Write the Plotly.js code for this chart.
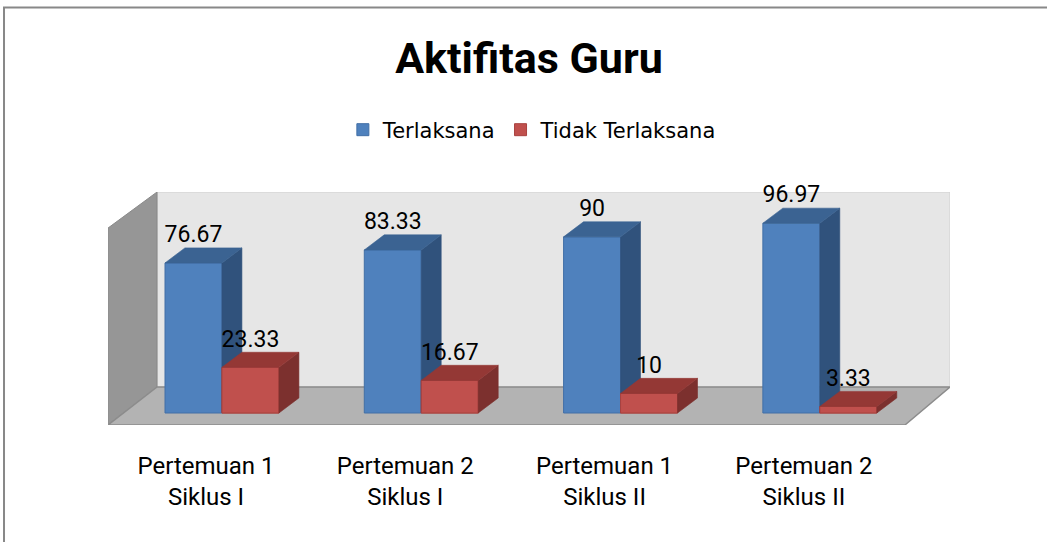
<!DOCTYPE html>
<html>
<head>
<meta charset="utf-8">
<script src="https://cdn.plot.ly/plotly-3.0.1.min.js"></script>
<style>
  html, body { margin: 0; padding: 0; background: #ffffff; }
  #chart { width: 1047px; height: 542px; }
</style>
</head>
<body>
<div id="chart"></div>
<script>
// ---- Data ----
const categories = ['Pertemuan 1<br>Siklus I', 'Pertemuan 2<br>Siklus I', 'Pertemuan 1<br>Siklus II', 'Pertemuan 2<br>Siklus II'];
const terlaksana = [76.67, 83.33, 90, 96.97];
const tidakTerlaksana = [23.33, 16.67, 10, 3.33];
const seriesNames = ['Terlaksana', 'Tidak Terlaksana'];
const chartTitle = 'Aktifitas Guru';

// ---- Style ----
const blue = { front: '#4F81BD', side: '#30527c', top: '#3b6392', edge: '#426fa6' };
const red = { front: '#C0504D', side: '#7c302e', top: '#943835', edge: '#a9423f' };
const bargap = 0.428;
const w = (1 - bargap) / 2;     // width of one bar in axis units
const ddx = 0.1;                // depth offset (x units)
const ddy = 7.7;                // depth offset (y units)
const xs = categories.map((_, i) => i);

function faces(values, leftOf) {
  const side = { x: [], y: [] }, top = { x: [], y: [] }, front = { x: [], y: [] };
  values.forEach((v, i) => {
    const l = leftOf(i), r = l + w;
    side.x.push(r, r + ddx, r + ddx, r, r, null);
    side.y.push(0, ddy, v + ddy, v, 0, null);
    top.x.push(l, l + ddx, r + ddx, r, l, null);
    top.y.push(v, v + ddy, v + ddy, v, v, null);
    front.x.push(l, r, r, l, l, null);
    front.y.push(0, 0, v, v, 0, null);
  });
  return { side, top, front };
}
const fb = faces(terlaksana, i => i - w);
const fr = faces(tidakTerlaksana, i => i);

function poly(p, color) {
  return { type: 'scatter', mode: 'lines', x: p.x, y: p.y, fill: 'toself', fillcolor: color,
           line: { color: color, width: 0.6 }, showlegend: false, hoverinfo: 'skip', connectgaps: false };
}
function labels(values, off) {
  return { type: 'scatter', mode: 'text', x: xs.map(i => i + off), y: values.map(v => v + ddy),
           text: values.map(v => String(v)), textposition: 'top center', cliponaxis: false,
           textfont: { family: 'Roboto, sans-serif', size: 23, color: '#000' },
           showlegend: false, hoverinfo: 'skip' };
}

const traces = [
  { type: 'bar', name: seriesNames[0], x: xs, y: terlaksana,
    marker: { color: blue.front, line: { color: blue.edge, width: 1 } }, hoverinfo: 'y' },
  { type: 'bar', name: seriesNames[1], x: xs, y: tidakTerlaksana,
    marker: { color: red.front, line: { color: red.edge, width: 1 } }, hoverinfo: 'y' },
  poly(fb.side, blue.side),
  poly(fb.top, blue.top),
  Object.assign(poly(fr.front, red.front), { line: { color: red.edge, width: 1 } }),
  poly(fr.side, red.side),
  poly(fr.top, red.top),
  labels(terlaksana, -w / 2),
  labels(tidakTerlaksana, w / 2)
];

// ---- Geometry of the 3D box (axis units) ----
const X0 = -0.572, X1 = 3.653, Y0 = -6.13, Y1 = 112.93;
const bx = -0.326, byFloor = 13.29, fxr = 3.427, leftTop = 94.5;

const layout = {
  width: 1047, height: 542,
  margin: { l: 108, r: 97, t: 192, b: 117 },
  paper_bgcolor: '#ffffff', plot_bgcolor: 'rgba(0,0,0,0)',
  barmode: 'group', bargap: bargap, bargroupgap: 0,
  title: { text: chartTitle, font: { family: 'Roboto, sans-serif', size: 43, color: '#000', weight: 'bold' },
           x: 0.5, xref: 'paper', xanchor: 'center', y: 0.893, yref: 'container', yanchor: 'middle' },
  legend: { orientation: 'h', x: 0.504, xanchor: 'center', y: 1.266, yanchor: 'middle',
            font: { family: 'DejaVu Sans, sans-serif', size: 21, color: '#000' },
            traceorder: 'normal', bgcolor: 'rgba(0,0,0,0)' },
  xaxis: { type: 'linear', range: [X0, X1], tickvals: xs, ticktext: categories,
           showgrid: false, zeroline: false, showline: false, ticks: '',
           tickfont: { family: 'Roboto, sans-serif', size: 24, color: '#000' },
           ticklabelshift: -16, ticklabelstandoff: 24, fixedrange: true },
  yaxis: { range: [Y0, Y1], visible: false, showgrid: false, zeroline: false, fixedrange: true },
  shapes: [
    // back wall
    { type: 'path', layer: 'below', xref: 'x', yref: 'y',
      path: `M${bx},${byFloor} L${bx},${Y1} L${X1},${Y1} L${X1},${byFloor} Z`,
      fillcolor: '#e6e6e6', line: { color: '#d0d0d0', width: 1 } },
    // left wall
    { type: 'path', layer: 'below', xref: 'x', yref: 'y',
      path: `M${X0},${Y0} L${X0},${leftTop} L${bx},${Y1} L${bx},${byFloor} Z`,
      fillcolor: '#969696', line: { color: '#8a8a8a', width: 1 } },
    // floor
    { type: 'path', layer: 'below', xref: 'x', yref: 'y',
      path: `M${X0},${Y0} L${fxr},${Y0} L${X1},${byFloor} L${bx},${byFloor} Z`,
      fillcolor: '#b3b3b3', line: { color: '#8c8c8c', width: 1.5 } },
    // chart border (top & left visible)
    { type: 'rect', xref: 'paper', yref: 'paper', layer: 'above',
      x0: -0.1235, x1: 1.2, y0: -0.7, y1: 1.7918,
      line: { color: '#888888', width: 2 }, fillcolor: 'rgba(0,0,0,0)' }
  ],
  showlegend: true
};

Plotly.newPlot('chart', traces, layout, { displayModeBar: false, staticPlot: true });
</script>
</body>
</html>
